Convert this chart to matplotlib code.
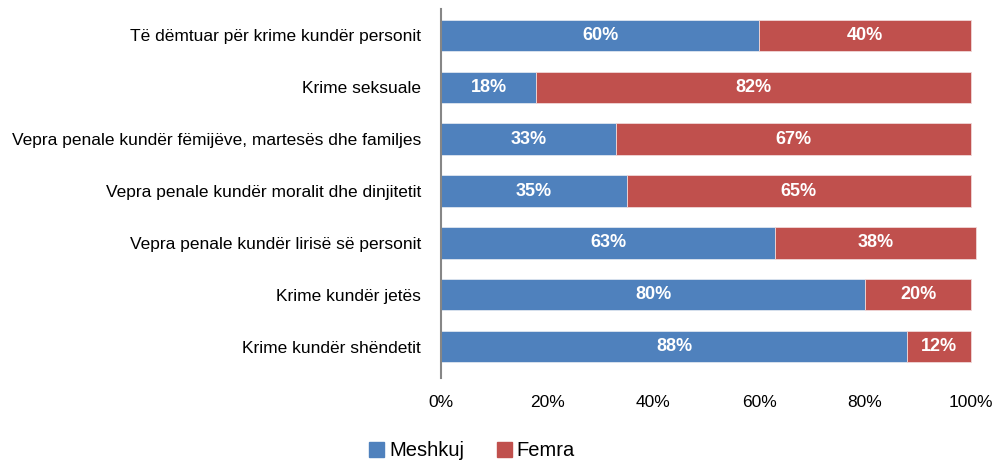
import matplotlib
matplotlib.use('Agg')
import matplotlib.pyplot as plt
from matplotlib import font_manager
from matplotlib.patches import Patch

# data, top to bottom
categories = [
    "Të dëmtuar për krime kundër personit",
    "Krime seksuale",
    "Vepra penale kundër fëmijëve, martesës dhe familjes",
    "Vepra penale kundër moralit dhe dinjitetit",
    "Vepra penale kundër lirisë së personit",
    "Krime kundër jetës",
    "Krime kundër shëndetit",
]
meshkuj = [60, 18, 33, 35, 63, 80, 88]
femra = [40, 82, 67, 65, 38, 20, 12]
xticks = [0, 20, 40, 60, 80, 100]

names = {f.name for f in font_manager.fontManager.ttflist}
fam = 'Liberation Sans Narrow' if 'Liberation Sans Narrow' in names else 'Liberation Sans'
plt.rcParams['font.family'] = [fam, 'DejaVu Sans']

blue = '#4F81BD'
red = '#C0504D'

fig = plt.figure(figsize=(9.94, 4.61), dpi=100)
ax = fig.add_axes([0.4437, 0.18, 0.5332, 0.80])

y = list(range(len(categories)))
h = 0.6
ax.barh(y, meshkuj, height=h, color=blue, edgecolor='#dfe6f0', linewidth=0.6,
        clip_on=False)
ax.barh(y, femra, left=meshkuj, height=h, color=red, edgecolor='#f0d8d8', linewidth=0.6,
        clip_on=False)

for i in y:
    ax.text(meshkuj[i] / 2, i, f"{meshkuj[i]}%", ha='center', va='center',
            color='white', fontweight='bold', fontsize=13)
    ax.text(meshkuj[i] + femra[i] / 2, i, f"{femra[i]}%", ha='center', va='center',
            color='white', fontweight='bold', fontsize=13)

ax.set_ylim(len(categories) - 0.4, -0.5)
ax.set_yticks(y)
ax.set_yticklabels(categories, fontsize=12.5)
ax.set_xlim(0, 100)
ax.set_xticks(xticks)
ax.set_xticklabels([f"{t}%" for t in xticks], fontsize=12.5)
ax.tick_params(axis='y', length=0, pad=14.5)
ax.tick_params(axis='x', length=0, pad=12)

for s in ['top', 'right', 'bottom']:
    ax.spines[s].set_visible(False)
ax.spines['left'].set_color('#868686')
ax.spines['left'].set_linewidth(1.5)

handles = [Patch(color=blue, label='Meshkuj'), Patch(color=red, label='Femra')]
fig.legend(handles=handles, loc='lower center', bbox_to_anchor=(0.475, -0.038), ncol=2,
           frameon=False, fontsize=14.5, handlelength=0.75, handleheight=0.75,
           handletextpad=0.25, columnspacing=1.6)

fig.savefig('out.png', dpi=100)
